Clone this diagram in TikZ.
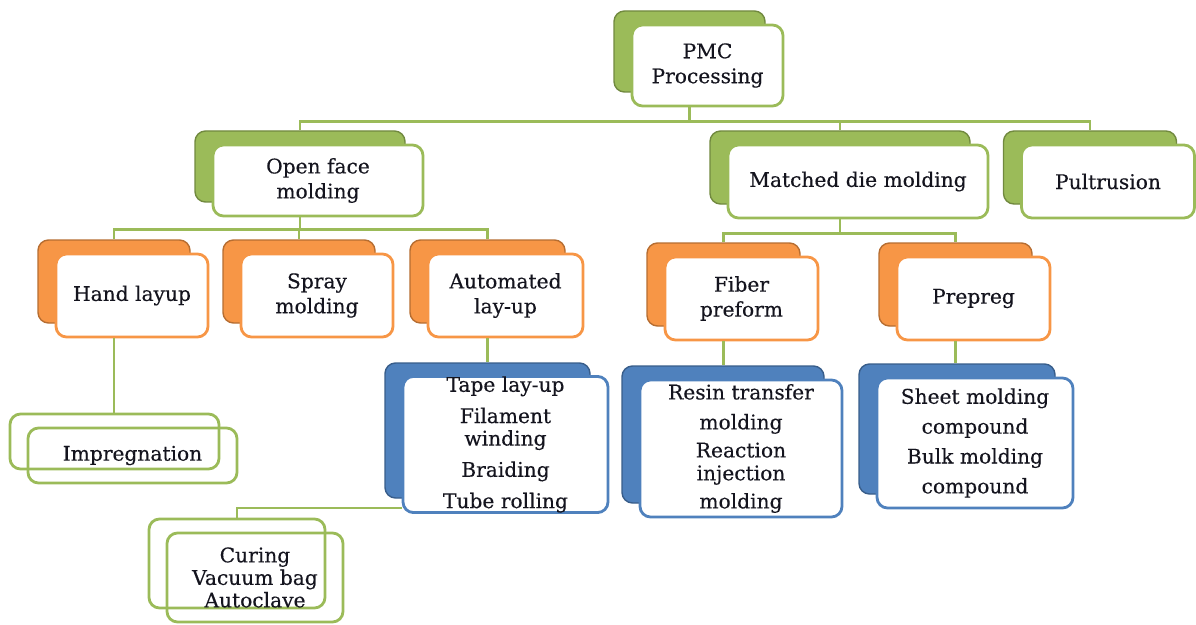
\documentclass[tikz,border=0pt]{standalone}
\usepackage{fontspec}
\setmainfont{DejaVu Serif}[FakeBold=0.3]
\usepackage{tikz}
\usetikzlibrary{positioning}
\definecolor{mygreen}{RGB}{155,187,89}
\definecolor{mydkgreen}{RGB}{113,137,63}
\definecolor{myorange}{RGB}{247,150,70}
\definecolor{mydkorange}{RGB}{182,109,49}
\definecolor{myblue}{RGB}{79,129,189}
\definecolor{mydkblue}{RGB}{56,93,138}
\definecolor{mytext}{RGB}{20,20,30}
\tikzset{
  gback/.style={rectangle, draw=mydkgreen, fill=mygreen, inner sep=0pt,
    rounded corners=6pt, line width=0.8pt},
  oback/.style={rectangle, draw=mydkorange, fill=myorange, inner sep=0pt,
    rounded corners=6pt, line width=0.8pt},
  bback/.style={rectangle, draw=mydkblue, fill=myblue, inner sep=0pt,
    rounded corners=6pt, line width=0.8pt},
  gfront/.style={rectangle, draw=mygreen, fill=white, inner sep=0pt,
    align=center, rounded corners=6pt, line width=1.6pt, text=mytext},
  ofront/.style={rectangle, draw=myorange, fill=white, inner sep=0pt,
    align=center, rounded corners=6pt, line width=1.6pt, text=mytext},
  bfront/.style={rectangle, draw=myblue, fill=white, inner sep=0pt,
    align=center, rounded corners=6pt, line width=1.6pt, text=mytext},
  gline/.style={rectangle, draw=mygreen, inner sep=0pt,
    align=center, rounded corners=6pt, line width=1.6pt, text=mytext},
  conn/.style={draw=mygreen, line width=1.6pt}
}

\begin{document}
\begin{tikzpicture}[font=\fontsize{11.5}{14.2}\selectfont]
  \useasboundingbox (0,0) rectangle (23.92,-12.5);

  % Root
  \node[gback, minimum width=3.02cm, minimum height=1.62cm] (pmcb) at (13.79,-1.03) {};
  \node[gfront, minimum width=3.02cm, minimum height=1.62cm] (pmc) at ([shift={(0.36,-0.28)}]pmcb) {PMC\\Processing};

  % Row 1: processing routes
  \node[gback, minimum width=4.2cm, minimum height=1.42cm] (openb) at (6.00,-3.33) {};
  \node[gfront, minimum width=4.2cm, minimum height=1.42cm] (open) at ([shift={(0.36,-0.28)}]openb) {Open face\\molding};
  \node[gback, minimum width=5.2cm, minimum height=1.46cm] (dieb) at (16.80,-3.35) {};
  \node[gfront, minimum width=5.2cm, minimum height=1.46cm] (die) at ([shift={(0.36,-0.28)}]dieb) {Matched die molding};
  \node[gback, minimum width=3.46cm, minimum height=1.46cm] (pultb) at (21.8,-3.35) {};
  \node[gfront, minimum width=3.46cm, minimum height=1.46cm] (pult) at ([shift={(0.36,-0.28)}]pultb) {Pultrusion};

  % Row 2: open face molding
  \node[oback, minimum width=3.04cm, minimum height=1.66cm] (handb) at (2.28,-5.63) {};
  \node[ofront, minimum width=3.04cm, minimum height=1.66cm] (hand) at ([shift={(0.36,-0.28)}]handb) {Hand layup};
  \node[oback, minimum width=3.04cm, minimum height=1.66cm] (sprayb) at (5.98,-5.63) {};
  \node[ofront, minimum width=3.04cm, minimum height=1.66cm] (spray) at ([shift={(0.36,-0.28)}]sprayb) {Spray\\molding};
  \node[oback, minimum width=3.1cm, minimum height=1.66cm] (autob) at (9.75,-5.63) {};
  \node[ofront, minimum width=3.1cm, minimum height=1.66cm] (auto) at ([shift={(0.36,-0.28)}]autob) {Automated\\lay-up};

  % Row 2: matched die molding
  \node[oback, minimum width=3.06cm, minimum height=1.66cm] (fiberb) at (14.47,-5.69) {};
  \node[ofront, minimum width=3.06cm, minimum height=1.66cm] (fiber) at ([shift={(0.36,-0.28)}]fiberb) {Fiber\\preform};
  \node[oback, minimum width=3.06cm, minimum height=1.66cm] (prepb) at (19.11,-5.69) {};
  \node[ofront, minimum width=3.06cm, minimum height=1.66cm] (prep) at ([shift={(0.36,-0.28)}]prepb) {Prepreg};

  % Row 3: methods
  \node[gline, minimum width=4.18cm, minimum height=1.1cm] (impb) at (2.29,-8.83) {};
  \node[gline, minimum width=4.18cm, minimum height=1.1cm] (imp) at ([shift={(0.36,-0.28)}]impb) {Impregnation};
  \node[bback, minimum width=4.1cm, minimum height=2.7cm] (tapeb) at (9.75,-8.61) {};
  \node[bfront, minimum width=4.1cm, minimum height=2.7cm, font=\fontsize{11.5}{12.8}\selectfont] (tape) at ([shift={(0.36,-0.28)}]tapeb)
    {Tape lay-up\\[5pt]Filament\\winding\\[5pt]Braiding\\[5pt]Tube rolling};
  \node[bback, minimum width=4.04cm, minimum height=2.74cm] (resinb) at (14.46,-8.69) {};
  \node[bfront, minimum width=4.04cm, minimum height=2.74cm, font=\fontsize{11.5}{13}\selectfont] (resin) at ([shift={(0.36,-0.28)}]resinb)
    {Resin transfer\\[4pt]molding\\[3pt]Reaction\\injection\\[3pt]molding};
  \node[bback, minimum width=3.92cm, minimum height=2.6cm] (sheetb) at (19.14,-8.58) {};
  \node[bfront, minimum width=3.92cm, minimum height=2.6cm, font=\fontsize{11.5}{14}\selectfont] (sheet) at ([shift={(0.36,-0.28)}]sheetb)
    {Sheet molding\\[3pt]compound\\[3pt]Bulk molding\\[3pt]compound};

  % Row 4: curing
  \node[gline, minimum width=3.52cm, minimum height=1.78cm] (curb) at (4.74,-11.27) {};
  \node[gline, minimum width=3.52cm, minimum height=1.78cm, font=\fontsize{11.5}{12.8}\selectfont] (cur) at ([shift={(0.36,-0.28)}]curb)
    {Curing\\Vacuum bag\\Autoclave};

  % Connectors
  \draw[conn] (pmcb |- pmc.south) -- ++(0,-0.28) -| (openb.north);
  \draw[conn] (pmcb |- pmc.south) -- ++(0,-0.28) -| (dieb.north);
  \draw[conn] (pmcb |- pmc.south) -- ++(0,-0.28) -| (pultb.north);
  \draw[conn] (openb |- open.south) -- ++(0,-0.24) -| (handb.north);
  \draw[conn] (openb |- open.south) -- ++(0,-0.24) -| (sprayb.north);
  \draw[conn] (openb |- open.south) -- ++(0,-0.24) -| (autob.north);
  \draw[conn] (dieb |- die.south) -- ++(0,-0.28) -| (fiberb.north);
  \draw[conn] (dieb |- die.south) -- ++(0,-0.28) -| (prepb.north);
  \draw[conn] (handb |- hand.south) -- (handb |- impb.north);
  \draw[conn] (autob |- auto.south) -- (autob |- tapeb.north);
  \draw[conn] (fiberb |- fiber.south) -- (fiberb |- resinb.north);
  \draw[conn] (prepb |- prep.south) -- (prepb |- sheetb.north);
  \draw[conn] ([yshift=0.12cm]tape.south west) -| (curb.north);
\end{tikzpicture}
\end{document}
